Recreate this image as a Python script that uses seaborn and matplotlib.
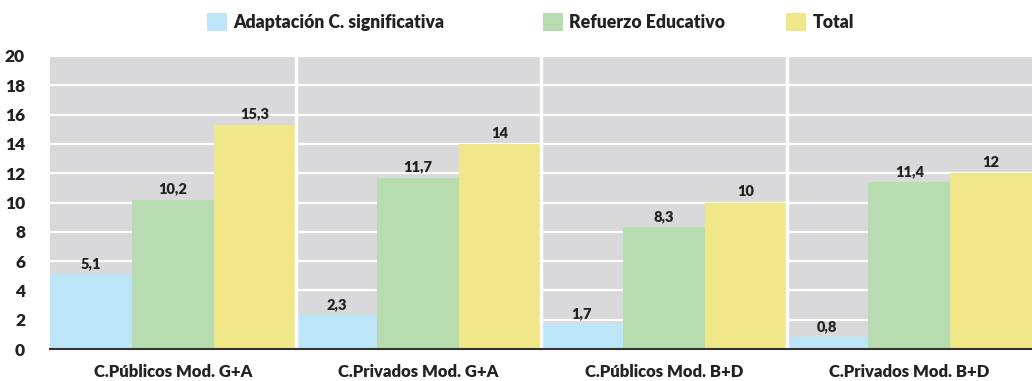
import matplotlib
matplotlib.use("Agg")
import matplotlib.pyplot as plt
import seaborn as sns
import pandas as pd

# Categories and series
centros = ["C.Públicos Mod. G+A", "C.Privados Mod. G+A",
           "C.Públicos Mod. B+D", "C.Privados Mod. B+D"]
series = ["Adaptación C. significativa", "Refuerzo Educativo", "Total"]
adaptacion = [5.1, 2.3, 1.7, 0.8]
refuerzo = [10.2, 11.7, 8.3, 11.4]
total = [15.3, 14, 10, 12]
y_ticks = [0, 2, 4, 6, 8, 10, 12, 14, 16, 18, 20]

colors = ["#BDE5F8", "#B6DCB0", "#F0E68A"]
text_color = "#222222"
W = "heavy"

df = pd.DataFrame({
    "centro": centros * 3,
    "serie": [series[0]] * 4 + [series[1]] * 4 + [series[2]] * 4,
    "valor": adaptacion + refuerzo + total,
})

sns.set_theme(style="white")
plt.rcParams["font.family"] = ["Lato", "DejaVu Sans"]
plt.rcParams["font.weight"] = W

fig = plt.figure(figsize=(10.32, 3.81), dpi=100)
ax = fig.add_axes([50 / 1032, 1 - 349 / 381, 1 - 50 / 1032, 293 / 381])
ax.set_facecolor("#D9D9DB")

sns.barplot(data=df, x="centro", y="valor", hue="serie", order=centros,
            hue_order=series, palette=colors, saturation=1, width=1,
            gap=0, ax=ax, zorder=3, linewidth=0)

# White grid behind the bars and white separators between groups
for v in y_ticks[1:]:
    ax.axhline(v, color="white", lw=1.6, zorder=1)
for xs in [0.5, 1.5, 2.5]:
    ax.axvline(xs, color="white", lw=2.5, zorder=4)

ax.set_xlim(-0.5, 3.5)
ax.set_ylim(0, 20)
ax.set_yticks(y_ticks)
ax.set_yticklabels([str(t) for t in y_ticks], fontsize=12.5,
                   fontweight=W, color=text_color)
ax.set_xticks(range(len(centros)))
ax.set_xticklabels(centros, fontsize=12, fontweight=W, color=text_color)
ax.tick_params(axis="x", length=0, pad=11)
ax.tick_params(axis="y", length=0, pad=18)
ax.set_xticks([-0.5, 0.5, 1.5, 2.5], minor=True)
ax.tick_params(axis="x", which="minor", length=3, width=2.5,
               color="#222222", direction="out")
ax.set_xlabel("")
ax.set_ylabel("")

for side in ["top", "right", "left"]:
    ax.spines[side].set_visible(False)
ax.spines["bottom"].set_color("#333333")
ax.spines["bottom"].set_linewidth(1.5)
ax.spines["bottom"].set_zorder(5)


def fmt(v):
    if float(v).is_integer():
        return str(int(v))
    return f"{v:.1f}".replace(".", ",")


for container, vals in zip(ax.containers, [adaptacion, refuerzo, total]):
    ax.bar_label(container, labels=[fmt(v) for v in vals], padding=3,
                 fontsize=10.5, fontweight=W, color=text_color)

# Legend: one entry per series, spread across the top
handles, labels = ax.get_legend_handles_labels()
ax.get_legend().remove()
for h, lab, x0 in zip(handles, labels, [207, 543, 786]):
    leg = fig.legend([h], [lab], loc="center left",
                     bbox_to_anchor=(x0 / 1032, 1 - 22 / 381),
                     frameon=False, fontsize=12.7, handlelength=1.15,
                     handleheight=1.15, handletextpad=0.35, borderpad=0,
                     borderaxespad=0)
    for t in leg.get_texts():
        t.set_fontweight(W)
        t.set_color(text_color)

fig.savefig("out.png", dpi=100)
